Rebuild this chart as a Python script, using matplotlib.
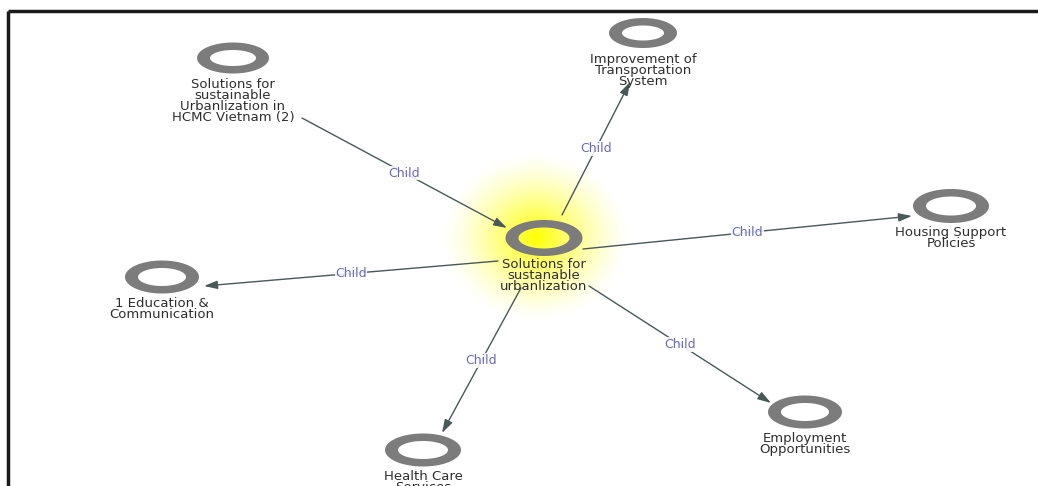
import numpy as np
import matplotlib
matplotlib.use('Agg')
import matplotlib.pyplot as plt
from matplotlib.path import Path
from matplotlib.patches import PathPatch

plt.rcParams['font.family'] = ['DejaVu Sans']

# node data (pixel layout of the diagram)
node_names = ['center', 'hcmc', 'transport', 'housing', 'education', 'health', 'employment']
node_labels = ['Solutions for\nsustanable\nurbanlization',
               'Solutions for\nsustainable\nUrbanlization in\nHCMC Vietnam (2)',
               'Improvement of\nTransportation\nSystem',
               'Housing Support\nPolicies',
               '1 Education &\nCommunication',
               'Health Care\nServices',
               'Employment\nOpportunities']
node_x = [544, 233, 643, 951, 162, 423, 805]
node_y = [238, 58, 33, 206, 277, 450, 412]
node_w = [77, 72, 68, 76, 74, 76, 74]
node_h = [36, 31, 30, 34, 33, 33, 33]

# edges: start point, end point (arrow at end)
edge_from = ['hcmc', 'center', 'center', 'center', 'center', 'center']
edge_to = ['center', 'transport', 'housing', 'education', 'health', 'employment']
edge_start = [(302, 118), (562, 215), (583, 249), (498, 261), (521, 288), (589, 286)]
edge_end = [(507, 228), (630, 82), (912, 216), (204, 286), (442, 433), (771, 403)]
edge_text = 'Child'


def ring_path(x, y, w, h, tw, th):
    t = np.linspace(0, 2 * np.pi, 100)
    outer = np.column_stack([x + w / 2 * np.cos(t), y + h / 2 * np.sin(t)])
    inner = np.column_stack([x + (w / 2 - tw) * np.cos(t[::-1]), y + (h / 2 - th) * np.sin(t[::-1])])
    verts = np.vstack([outer, inner])
    codes = [Path.MOVETO] + [Path.LINETO] * 98 + [Path.CLOSEPOLY]
    codes = codes + codes
    return Path(verts, codes)


fig = plt.figure(figsize=(10.38, 4.86), dpi=100)
ax = fig.add_axes([0, 0, 1, 1])
ax.set_xlim(0, 1038)
ax.set_ylim(486, 0)
ax.axis('off')

# yellow glow behind the central node
gx, gy = node_x[0] - 8, node_y[0] - 1
R = 95
yy, xx = np.mgrid[-R:R + 1, -R:R + 1]
d = np.sqrt(xx ** 2 + (yy / 0.9) ** 2) / R
alpha = np.clip(1 - d, 0, 1) ** 1.4
img = np.zeros(d.shape + (4,))
img[..., 0] = 1.0
img[..., 1] = 1.0
img[..., 2] = 0.0
img[..., 3] = alpha
ax.imshow(img, extent=(gx - R, gx + R, gy + R, gy - R), zorder=0, interpolation='bilinear')

# edges
edge_color = '#4a5858'
for s, e in zip(edge_start, edge_end):
    ax.annotate('', xy=e, xytext=s,
                arrowprops=dict(arrowstyle='-|>,head_length=0.8,head_width=0.25',
                                color=edge_color, lw=1.0, shrinkA=0, shrinkB=0),
                zorder=2)
    mx, my = (s[0] + e[0]) / 2, (s[1] + e[1]) / 2
    ax.text(mx, my, edge_text, ha='center', va='center', fontsize=9,
            color='#6a6abf', zorder=3,
            bbox=dict(boxstyle='square,pad=0.05', fc='white', ec='none', alpha=0.85))

# nodes
for name, lab, x, y, w, h in zip(node_names, node_labels, node_x, node_y, node_w, node_h):
    ax.add_patch(PathPatch(ring_path(x, y, w, h, 13, 7.5), fc='#7c7c7c', ec='none', zorder=4))
    ax.text(x, y + 20, lab, ha='center', va='top', fontsize=9.5,
            color='#2e2e2e', linespacing=0.8, zorder=5)

# frame (left and top border)
ax.plot([8, 8], [11, 486], color='#1a1a1a', lw=2.5, solid_capstyle='butt', zorder=6)
ax.plot([8, 1038], [11, 11], color='#1a1a1a', lw=2.5, solid_capstyle='butt', zorder=6)

fig.savefig('out.png', dpi=100)
